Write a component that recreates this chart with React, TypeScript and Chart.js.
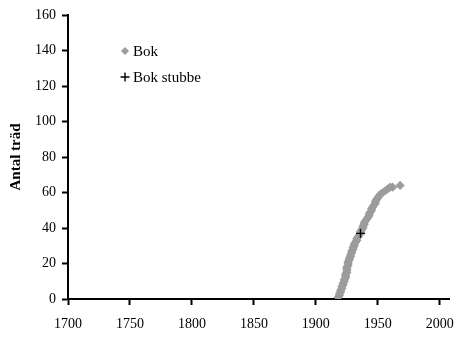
import React, { useEffect, useRef } from "react";
import { Chart, registerables } from "chart.js";

Chart.register(...registerables);

// Cumulative number of beech trees by establishment year
const bokYears = [
  1918, 1919, 1919, 1920, 1920, 1921, 1921, 1922, 1922, 1923,
  1923, 1924, 1924, 1924, 1925, 1925, 1925, 1925, 1926, 1926,
  1926, 1927, 1927, 1928, 1928, 1929, 1929, 1930, 1930, 1931,
  1931, 1932, 1933, 1933, 1934, 1935, 1936, 1936, 1937, 1938,
  1938, 1939, 1939, 1940, 1941, 1942, 1943, 1943, 1944, 1945,
  1945, 1946, 1947, 1948, 1948, 1949, 1950, 1951, 1952, 1954,
  1956, 1958, 1960, 1962, 1968,
];
const bokCounts = [
  1, 2, 3, 4, 5, 6, 7, 8, 9, 10,
  11, 12, 13, 14, 15, 16, 17, 18, 19, 20,
  21, 22, 23, 24, 25, 26, 27, 28, 29, 30,
  31, 32, 33, 34, 35, 36, 37, 38, 39, 40,
  41, 42, 43, 44, 45, 46, 47, 48, 49, 50,
  51, 52, 53, 54, 55, 56, 57, 58, 59, 60,
  61, 62, 63, 63, 64,
];

// Beech stump
const stubbeYears = [1936];
const stubbeCounts = [37];

const xTicks = [1700, 1750, 1800, 1850, 1900, 1950, 2000];
const yTicks = [0, 20, 40, 60, 80, 100, 120, 140, 160];

const seriesNames = ["Bok", "Bok stubbe"];
const yTitle = "Antal träd";

const GREY = "#9c9c9c";
const SERIF = "'Liberation Serif', 'Times New Roman', serif";

const legendPlugin = {
  id: "insideLegend",
  afterDraw(chart: any) {
    const ctx = chart.ctx;
    ctx.save();
    ctx.font = `15px ${SERIF}`;
    ctx.textBaseline = "middle";
    ctx.textAlign = "left";
    const mx = 125;
    const y1 = 51;
    const y2 = 77;
    // diamond marker
    ctx.fillStyle = GREY;
    ctx.beginPath();
    ctx.moveTo(mx, y1 - 4);
    ctx.lineTo(mx + 4, y1);
    ctx.lineTo(mx, y1 + 4);
    ctx.lineTo(mx - 4, y1);
    ctx.closePath();
    ctx.fill();
    // cross marker
    ctx.strokeStyle = "#000";
    ctx.lineWidth = 1.4;
    ctx.beginPath();
    ctx.moveTo(mx - 4.5, y2);
    ctx.lineTo(mx + 4.5, y2);
    ctx.moveTo(mx, y2 - 4.5);
    ctx.lineTo(mx, y2 + 4.5);
    ctx.stroke();
    ctx.fillStyle = "#000";
    ctx.fillText(seriesNames[0], 133, y1 + 1);
    ctx.fillText(seriesNames[1], 133, y2 + 1);
    ctx.restore();
  },
};

const axisGrid = {
  display: true,
  drawOnChartArea: false,
  drawTicks: true,
  tickLength: 6,
  tickWidth: 2,
  tickColor: "#000",
};

export default function App() {
  const ref = useRef<HTMLCanvasElement>(null);

  useEffect(() => {
    document.body.style.margin = "0";
    const canvas = ref.current;
    if (!canvas) return;
    const chart = new Chart(canvas, {
      type: "scatter",
      data: {
        datasets: [
          {
            label: seriesNames[0],
            data: bokYears.map((x, i) => ({ x, y: bokCounts[i] })),
            pointStyle: "rectRot",
            pointRadius: 4.6,
            backgroundColor: GREY,
            borderColor: GREY,
            borderWidth: 0,
            order: 1,
          },
          {
            label: seriesNames[1],
            data: stubbeYears.map((x, i) => ({ x, y: stubbeCounts[i] })),
            pointStyle: "cross",
            pointRadius: 4.5,
            borderColor: "#000",
            backgroundColor: "#000",
            borderWidth: 1.4,
            order: 0,
          },
        ],
      },
      options: {
        responsive: false,
        animation: false,
        layout: { padding: { top: 15, right: 8, left: 0, bottom: 0 } },
        plugins: {
          legend: { display: false },
          tooltip: { enabled: false },
        },
        scales: {
          x: {
            type: "linear",
            min: 1700,
            max: 2008,
            afterBuildTicks(scale: any) {
              scale.ticks = xTicks.map((v) => ({ value: v }));
            },
            afterFit(scale: any) {
              scale.height = 38;
            },
            grid: axisGrid,
            border: { display: true, color: "#000", width: 2 },
            ticks: {
              color: "#000",
              font: { family: SERIF, size: 14 },
              padding: 11,
              maxRotation: 0,
              autoSkip: false,
              callback: (v: any) => String(v),
            },
          },
          y: {
            min: 0,
            max: 160,
            afterBuildTicks(scale: any) {
              scale.ticks = yTicks.map((v) => ({ value: v }));
            },
            afterFit(scale: any) {
              scale.width = 68;
            },
            grid: axisGrid,
            border: { display: true, color: "#000", width: 2 },
            ticks: {
              color: "#000",
              font: { family: SERIF, size: 14 },
              padding: 6,
              autoSkip: false,
              callback: (v: any) => String(v),
            },
            title: {
              display: true,
              text: yTitle,
              color: "#000",
              font: { family: SERIF, size: 15, weight: "bold" },
              padding: { top: 7, bottom: 0 },
            },
          },
        },
      },
      plugins: [legendPlugin],
    });
    return () => chart.destroy();
  }, []);

  return (
    <div style={{ width: 465, height: 337, position: "relative" }}>
      <canvas ref={ref} width={465} height={337} />
    </div>
  );
}
